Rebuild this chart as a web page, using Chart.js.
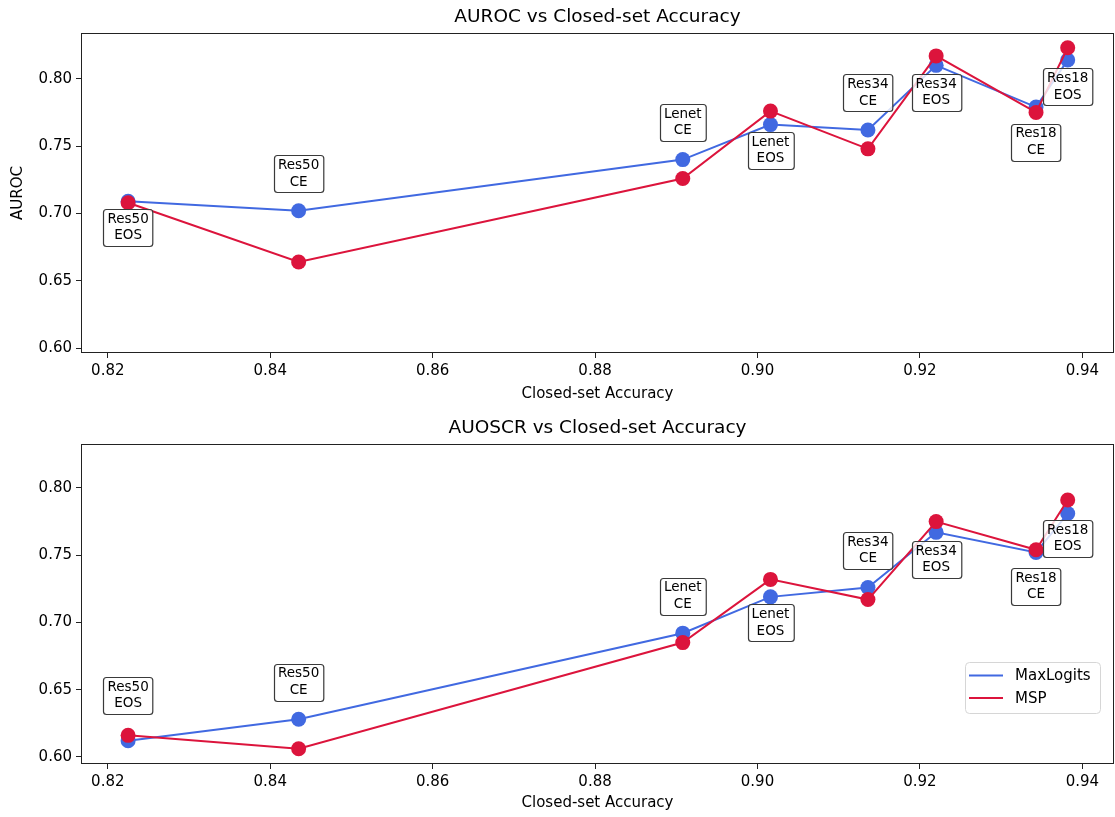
<!DOCTYPE html>
<html>
<head>
<meta charset="utf-8">
<script src="https://cdn.jsdelivr.net/npm/chart.js@4.4.1/dist/chart.umd.min.js"></script>
<style>
html, body { margin: 0; padding: 0; background: #fff; }
#wrap { position: relative; width: 1115px; height: 817px; }
.panel { position: absolute; left: 0; width: 1115px; }
</style>
</head>
<body>
<div id="wrap">
  <div class="panel" style="top:0;height:408px"><canvas id="rocChart" width="1115" height="408"></canvas></div>
  <div class="panel" style="top:408px;height:409px"><canvas id="oscrChart" width="1115" height="409"></canvas></div>
</div>
<script>
// model / loss pairs, in order of closed-set accuracy
const modelLabels = ['Res50\nEOS', 'Res50\nCE', 'Lenet\nCE', 'Lenet\nEOS', 'Res34\nCE', 'Res34\nEOS', 'Res18\nCE', 'Res18\nEOS'];
const accuracy = [0.8225, 0.8435, 0.8908, 0.9016, 0.9136, 0.9220, 0.9343, 0.9382];

const aurocMaxLogits = [0.709, 0.702, 0.740, 0.766, 0.762, 0.810, 0.779, 0.814];
const aurocMSP = [0.708, 0.664, 0.726, 0.776, 0.748, 0.817, 0.775, 0.823];

const auoscrMaxLogits = [0.612, 0.628, 0.692, 0.719, 0.726, 0.767, 0.752, 0.781];
const auoscrMSP = [0.616, 0.606, 0.685, 0.732, 0.717, 0.775, 0.754, 0.791];

const xTicks = [0.82, 0.84, 0.86, 0.88, 0.90, 0.92, 0.94];
const yTicks = [0.60, 0.65, 0.70, 0.75, 0.80];

// label box offsets (px) from the MaxLogits marker
const rocLabelOffsets = [26, -37, -37, 26, -37, 27, 35, 27];
const oscrLabelOffsets = [-45, -37, -37, 26, -37, 27, 34, 25];

const BLUE = '#4169E1';
const RED = '#DC143C';
const FONT = 'DejaVu Sans';

// axes frame + title over the plot area (matplotlib style)
const framePlugin = {
    id: 'frame',
    afterDatasetsDraw(chart) {
        const {ctx, chartArea: a} = chart;
        ctx.save();
        ctx.strokeStyle = '#222';
        ctx.lineWidth = 1;
        ctx.strokeRect(a.left + 0.5, a.top + 0.5, a.right - a.left - 1, a.bottom - a.top - 1);
        ctx.fillStyle = '#000';
        ctx.font = '18.5px "' + FONT + '"';
        ctx.textAlign = 'center';
        ctx.textBaseline = 'middle';
        ctx.fillText(chart.options.plugins.frame.title, (a.left + a.right) / 2, a.top - 16);
        ctx.restore();
    }
};

// text boxes naming each point
const labelBoxPlugin = {
    id: 'labelBoxes',
    afterDatasetsDraw(chart) {
        const {ctx, scales} = chart;
        const opts = chart.options.plugins.labelBoxes;
        const anchor = chart.data.datasets[0].data;
        ctx.save();
        ctx.font = '13.5px "' + FONT + '"';
        ctx.textAlign = 'center';
        ctx.textBaseline = 'middle';
        const lh = 16.5;
        modelLabels.forEach((lbl, i) => {
            const lines = lbl.split('\n');
            const px = scales.x.getPixelForValue(anchor[i].x);
            const py = scales.y.getPixelForValue(anchor[i].y) + opts.offsets[i];
            const tw = Math.max(...lines.map(l => ctx.measureText(l).width));
            const w = tw + 8, h = lines.length * lh + 4;
            ctx.beginPath();
            ctx.roundRect(Math.round(px - w / 2) + 0.5, Math.round(py - h / 2) + 0.5, w, h, 3);
            ctx.fillStyle = 'rgba(255,255,255,0.8)';
            ctx.fill();
            ctx.strokeStyle = '#3a3a3a';
            ctx.lineWidth = 1.2;
            ctx.stroke();
            ctx.fillStyle = '#000';
            lines.forEach((l, k) => {
                ctx.fillText(l, px, py + (k - (lines.length - 1) / 2) * lh);
            });
        });
        ctx.restore();
    }
};

// legend inside the axes, lower right
const innerLegendPlugin = {
    id: 'innerLegend',
    afterDraw(chart) {
        const opts = chart.options.plugins.innerLegend;
        if (!opts.show) return;
        const {ctx, chartArea: a} = chart;
        const w = 135, h = 51;
        const x0 = a.right - 14 - w, y0 = a.bottom - 51 - h;
        ctx.save();
        ctx.beginPath();
        ctx.roundRect(x0 + 0.5, y0 + 0.5, w, h, 4);
        ctx.fillStyle = 'rgba(255,255,255,0.8)';
        ctx.fill();
        ctx.strokeStyle = '#d6d6d6';
        ctx.lineWidth = 1;
        ctx.stroke();
        ctx.font = '15px "' + FONT + '"';
        ctx.textBaseline = 'middle';
        chart.data.datasets.forEach((ds, i) => {
            const yy = y0 + 13.5 + i * 22.5;
            ctx.strokeStyle = ds.borderColor;
            ctx.lineWidth = 2;
            ctx.beginPath();
            ctx.moveTo(x0 + 4, yy);
            ctx.lineTo(x0 + 38, yy);
            ctx.stroke();
            ctx.fillStyle = '#000';
            ctx.fillText(ds.label, x0 + 50, yy + 1);
        });
        ctx.restore();
    }
};

function buildChart(canvasId, title, yTitle, maxLogits, msp, offsets, yMin, yMax, topPad, xHeight, showLegend) {
    const ctx = document.getElementById(canvasId).getContext('2d');
    const tickFont = { family: FONT, size: 15 };
    return new Chart(ctx, {
        type: 'line',
        data: {
            datasets: [
                {
                    label: 'MaxLogits',
                    data: accuracy.map((x, i) => ({ x: x, y: maxLogits[i] })),
                    borderColor: BLUE,
                    backgroundColor: BLUE,
                    pointBackgroundColor: BLUE,
                    borderWidth: 2,
                    pointRadius: 7.5,
                    pointBorderWidth: 0,
                    order: 1,
                },
                {
                    label: 'MSP',
                    data: accuracy.map((x, i) => ({ x: x, y: msp[i] })),
                    borderColor: RED,
                    backgroundColor: RED,
                    pointBackgroundColor: RED,
                    borderWidth: 2,
                    pointRadius: 7.5,
                    pointBorderWidth: 0,
                    order: 0,
                },
            ],
        },
        options: {
            responsive: false,
            animation: false,
            layout: { autoPadding: false, padding: { top: topPad, right: 1, left: 0, bottom: 0 } },
            plugins: {
                legend: { display: false },
                tooltip: { enabled: false },
                frame: { title: title },
                labelBoxes: { offsets: offsets },
                innerLegend: { show: showLegend },
            },
            scales: {
                x: {
                    type: 'linear',
                    min: 0.8167,
                    max: 0.9439,
                    afterBuildTicks: s => { s.ticks = xTicks.map(v => ({ value: v })); },
                    afterFit: s => { s.height = xHeight; s.paddingLeft = 0; s.paddingRight = 0; },
                    grid: { drawOnChartArea: false, drawTicks: true, tickLength: 5, color: '#222' },
                    border: { display: false },
                    ticks: { color: '#000', font: tickFont, padding: 4, maxRotation: 0, callback: v => v.toFixed(2) },
                    title: { display: true, text: 'Closed-set Accuracy', color: '#000', font: tickFont, padding: { top: 0, bottom: 5 } },
                },
                y: {
                    type: 'linear',
                    min: yMin,
                    max: yMax,
                    afterBuildTicks: s => { s.ticks = yTicks.map(v => ({ value: v })); },
                    afterFit: s => { s.width = 81; s.paddingTop = 0; s.paddingBottom = 0; },
                    grid: { drawOnChartArea: false, drawTicks: true, tickLength: 5, color: '#222' },
                    border: { display: false },
                    ticks: { color: '#000', font: tickFont, padding: 4, callback: v => v.toFixed(2) },
                    title: { display: yTitle !== '', text: yTitle, color: '#000', font: tickFont, padding: { top: 9, bottom: 0 } },
                },
            },
        },
        plugins: [framePlugin, labelBoxPlugin, innerLegendPlugin],
    });
}

buildChart('rocChart', 'AUROC vs Closed-set Accuracy', 'AUROC', aurocMaxLogits, aurocMSP, rocLabelOffsets, 0.5964, 0.834, 33, 55, false);
buildChart('oscrChart', 'AUOSCR vs Closed-set Accuracy', '', auoscrMaxLogits, auoscrMSP, oscrLabelOffsets, 0.5947, 0.8327, 36, 53, true);
</script>
</body>
</html>
